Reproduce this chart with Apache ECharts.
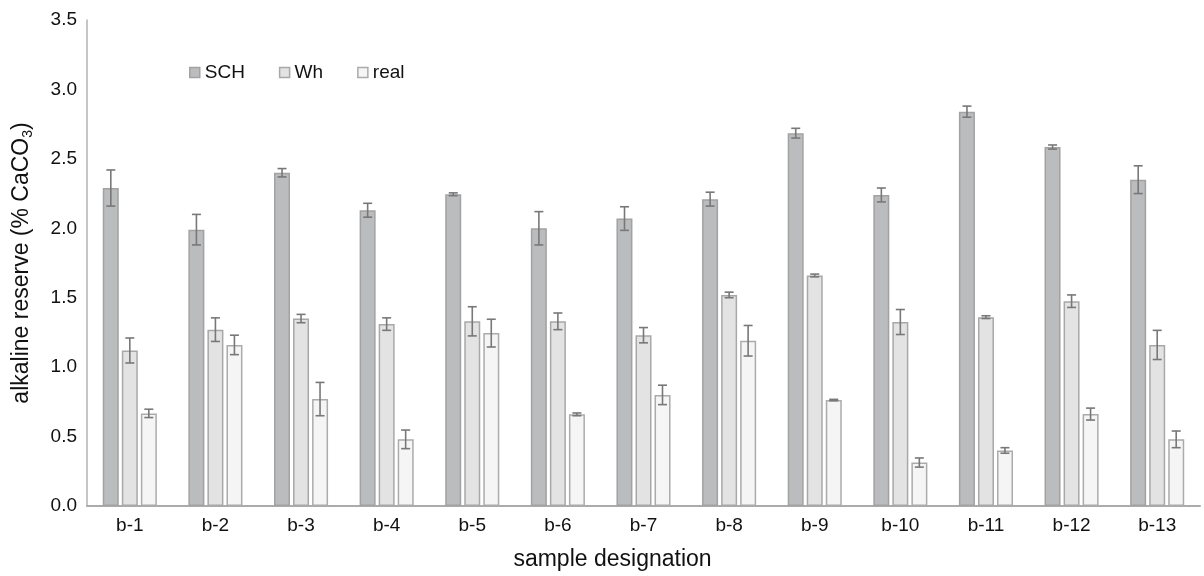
<!DOCTYPE html>
<html>
<head>
<meta charset="utf-8">
<script src="https://cdn.jsdelivr.net/npm/echarts@6/dist/echarts.min.js"></script>
<style>
  html, body { margin: 0; padding: 0; background: #fff; }
  #chart { width: 1204px; height: 576px; }
</style>
</head>
<body>
<div id="chart"></div>
<script>
var categories = ['b-1', 'b-2', 'b-3', 'b-4', 'b-5', 'b-6', 'b-7', 'b-8', 'b-9', 'b-10', 'b-11', 'b-12', 'b-13'];
var yTicks = [0, 0.5, 1.0, 1.5, 2.0, 2.5, 3.0, 3.5];

// mean values
var sch  = [2.29, 1.99, 2.40, 2.13, 2.245, 2.00, 2.07, 2.21, 2.685, 2.24, 2.84, 2.585, 2.35];
var wh   = [1.12, 1.27, 1.35, 1.31, 1.33, 1.33, 1.23, 1.52, 1.66, 1.325, 1.36, 1.475, 1.16];
var real = [0.667, 1.16, 0.77, 0.48, 1.245, 0.66, 0.80, 1.19, 0.763, 0.313, 0.40, 0.662, 0.48];

// error (+/-)
var schErr  = [0.13, 0.11, 0.03, 0.05, 0.01, 0.12, 0.085, 0.05, 0.035, 0.05, 0.04, 0.015, 0.10];
var whErr   = [0.09, 0.085, 0.03, 0.045, 0.105, 0.06, 0.055, 0.02, 0.01, 0.09, 0.01, 0.045, 0.105];
var realErr = [0.03, 0.07, 0.12, 0.067, 0.10, 0.01, 0.07, 0.11, 0.005, 0.033, 0.02, 0.043, 0.06];

var seriesNames = ['SCH', 'Wh', 'real'];
var fills   = ['#bbbcbe', '#e3e3e3', '#f4f5f4'];
var borders = ['#a2a2a2', '#a8a8a8', '#ababab'];

var barW = 16;
var step = 19; // bar width + gap

var myChart = echarts.init(document.getElementById('chart'));

function errData(vals, errs, k) {
    var out = [];
    for (var i = 0; i < vals.length; i++) {
        out.push([i, vals[i], vals[i] - errs[i], vals[i] + errs[i], k]);
    }
    return out;
}

function renderErr(params, api) {
    var idx = api.value(0);
    var k = api.value(4);
    var lo = api.coord([idx, api.value(2)]);
    var hi = api.coord([idx, api.value(3)]);
    var x = lo[0] + (k - 1) * step;
    var cap = 4.5;
    var st = { stroke: '#787878', lineWidth: 1.6 };
    return {
        type: 'group',
        children: [
            { type: 'line', shape: { x1: x, y1: lo[1], x2: x, y2: hi[1] }, style: st },
            { type: 'line', shape: { x1: x - cap, y1: lo[1], x2: x + cap, y2: lo[1] }, style: st },
            { type: 'line', shape: { x1: x - cap, y1: hi[1], x2: x + cap, y2: hi[1] }, style: st }
        ]
    };
}

var values = [sch, wh, real];
var errs = [schErr, whErr, realErr];
var series = [];
for (var k = 0; k < 3; k++) {
    series.push({
        name: seriesNames[k],
        type: 'bar',
        data: values[k],
        barWidth: barW,
        barGap: '19%',
        itemStyle: { color: fills[k], borderColor: borders[k], borderWidth: 1.5 },
        emphasis: { disabled: true }
    });
}
for (var k = 0; k < 3; k++) {
    series.push({
        type: 'custom',
        renderItem: renderErr,
        data: errData(values[k], errs[k], k),
        encode: { x: 0, y: [2, 3] },
        z: 5,
        silent: true
    });
}

var option = {
    animation: false,
    textStyle: { fontFamily: 'Liberation Sans, Arial, sans-serif' },
    grid: { left: 87, right: 4, top: 20, bottom: 68, containLabel: false },
    legend: {
        data: seriesNames,
        left: 184,
        top: 58,
        itemWidth: 10,
        itemHeight: 10,
        itemGap: 34,
        icon: 'rect',
        textStyle: { fontSize: 19, color: '#111' },
        itemStyle: { borderWidth: 1.5 }
    },
    xAxis: {
        type: 'category',
        data: categories,
        name: 'sample designation',
        nameLocation: 'middle',
        nameGap: 42,
        nameTextStyle: { fontSize: 23, color: '#111', padding: [0, 62, 0, 0] },
        axisLine: { lineStyle: { color: '#ababab', width: 2 } },
        axisTick: { show: false },
        axisLabel: { fontSize: 19, color: '#111', margin: 10 }
    },
    yAxis: {
        type: 'value',
        min: yTicks[0],
        max: yTicks[yTicks.length - 1],
        interval: 0.5,
        name: '{a|alkaline reserve (% CaCO}{s|3}{a|)}',
        nameLocation: 'middle',
        nameGap: 52,
        nameTextStyle: {
            color: '#111',
            rich: {
                a: { fontSize: 23, lineHeight: 26, color: '#111' },
                s: { fontSize: 14, lineHeight: 14, padding: [12, 0, 0, 0], color: '#111' }
            }
        },
        axisLine: { show: true, lineStyle: { color: '#b3b3b3', width: 1.5 } },
        axisTick: { show: false },
        splitLine: { show: false },
        axisLabel: {
            fontSize: 19,
            color: '#111',
            margin: 10,
            formatter: function (v) { return v.toFixed(1); }
        }
    },
    series: series
};

myChart.setOption(option);
</script>
</body>
</html>
